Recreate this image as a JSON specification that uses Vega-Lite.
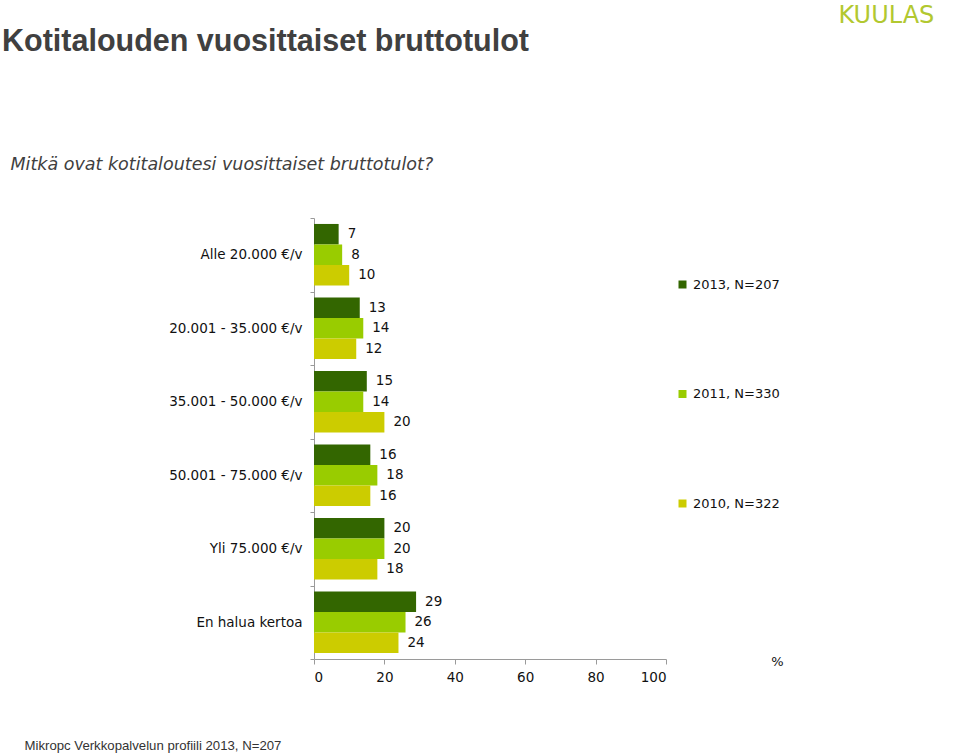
{
  "$schema": "https://vega.github.io/schema/vega-lite/v6.json",
  "autosize": {"type": "none"},
  "padding": {"left": 314, "top": 218, "right": 294, "bottom": 96},
  "width": 352,
  "height": 441,
  "background": "white",
  "title": {
    "text": "Kotitalouden vuosittaiset bruttotulot",
    "anchor": "start",
    "frame": "group",
    "font": "Liberation Sans",
    "fontSize": 30.5,
    "fontWeight": "bold",
    "color": "#404040",
    "baseline": "alphabetic",
    "dx": -312,
    "dy": 82
  },
  "config": {
    "view": {"stroke": null},
    "axis": {"labelFont": "DejaVu Sans", "titleFont": "DejaVu Sans", "labelColor": "#111", "titleColor": "#111", "domainColor": "#9a9a9a", "tickColor": "#9a9a9a"}
  },
  "data": {
    "values": [
      {"cat": "Alle 20.000 €/v", "series": "2013, N=207", "value": 7},
      {"cat": "Alle 20.000 €/v", "series": "2011, N=330", "value": 8},
      {"cat": "Alle 20.000 €/v", "series": "2010, N=322", "value": 10},
      {"cat": "20.001 - 35.000 €/v", "series": "2013, N=207", "value": 13},
      {"cat": "20.001 - 35.000 €/v", "series": "2011, N=330", "value": 14},
      {"cat": "20.001 - 35.000 €/v", "series": "2010, N=322", "value": 12},
      {"cat": "35.001 - 50.000 €/v", "series": "2013, N=207", "value": 15},
      {"cat": "35.001 - 50.000 €/v", "series": "2011, N=330", "value": 14},
      {"cat": "35.001 - 50.000 €/v", "series": "2010, N=322", "value": 20},
      {"cat": "50.001 - 75.000 €/v", "series": "2013, N=207", "value": 16},
      {"cat": "50.001 - 75.000 €/v", "series": "2011, N=330", "value": 18},
      {"cat": "50.001 - 75.000 €/v", "series": "2010, N=322", "value": 16},
      {"cat": "Yli 75.000 €/v", "series": "2013, N=207", "value": 20},
      {"cat": "Yli 75.000 €/v", "series": "2011, N=330", "value": 20},
      {"cat": "Yli 75.000 €/v", "series": "2010, N=322", "value": 18},
      {"cat": "En halua kertoa", "series": "2013, N=207", "value": 29},
      {"cat": "En halua kertoa", "series": "2011, N=330", "value": 26},
      {"cat": "En halua kertoa", "series": "2010, N=322", "value": 24}
    ]
  },
  "encoding": {
    "y": {
      "field": "cat", "type": "nominal",
      "sort": ["Alle 20.000 €/v", "20.001 - 35.000 €/v", "35.001 - 50.000 €/v", "50.001 - 75.000 €/v", "Yli 75.000 €/v", "En halua kertoa"],
      "scale": {"paddingInner": 0, "paddingOuter": 0}
    },
    "yOffset": {
      "field": "series", "type": "nominal",
      "sort": ["2013, N=207", "2011, N=330", "2010, N=322"],
      "scale": {"paddingInner": 0, "paddingOuter": 0.29}
    },
    "x": {
      "field": "value", "type": "quantitative",
      "scale": {"domain": [0, 100], "nice": false}
    }
  },
  "layer": [
    {
      "mark": {"type": "bar"},
      "encoding": {
        "y": {
          "field": "cat", "type": "nominal",
          "sort": ["Alle 20.000 €/v", "20.001 - 35.000 €/v", "35.001 - 50.000 €/v", "50.001 - 75.000 €/v", "Yli 75.000 €/v", "En halua kertoa"],
          "scale": {"paddingInner": 0, "paddingOuter": 0},
          "axis": {
            "orient": "left", "tickBand": "extent", "tickSize": 4, "labelPadding": 8, "labelFontSize": 13.5,
            "title": "Mikropc Verkkopalvelun profiili 2013, N=207",
            "titleFont": "Liberation Sans", "titleFontSize": 13.2, "titleFontWeight": "normal", "titleColor": "#333",
            "titleAngle": 0, "titleAlign": "left", "titleBaseline": "middle", "titleX": -290, "titleY": 527
          }
        },
        "x": {
          "field": "value", "type": "quantitative",
          "scale": {"domain": [0, 100], "nice": false},
          "axis": {
            "orient": "bottom", "values": [0, 20, 40, 60, 80, 100], "grid": false, "tickSize": 5, "labelPadding": 6, "labelFontSize": 13.5,
            "title": "%", "titleFontSize": 13, "titleFontWeight": "normal", "titleAlign": "center", "titleBaseline": "middle", "titleX": 463, "titleY": 2
          }
        },
        "color": {
          "field": "series", "type": "nominal",
          "sort": ["2013, N=207", "2011, N=330", "2010, N=322"],
          "scale": {"domain": ["2013, N=207", "2011, N=330", "2010, N=322"], "range": ["#336600", "#99cc00", "#cccc00"]},
          "legend": {
            "title": null, "orient": "none", "legendX": 362, "legendY": 60,
            "symbolType": "square", "symbolSize": 64, "symbolStrokeWidth": 0,
            "labelFont": "DejaVu Sans", "labelFontSize": 13, "labelColor": "#111", "labelOffset": 4,
            "rowPadding": 95.5
          }
        }
      }
    },
    {
      "mark": {"type": "text", "align": "left", "baseline": "middle", "dx": 9, "font": "DejaVu Sans", "fontSize": 13.5, "color": "#111"},
      "encoding": {
        "text": {"field": "value", "type": "quantitative"},
        "x": {
          "field": "value", "type": "quantitative",
          "scale": {"domain": [0, 100], "nice": false},
          "axis": {
            "orient": "top", "labels": false, "ticks": false, "domain": false, "grid": false,
            "title": "Mitkä ovat kotitaloutesi vuosittaiset bruttotulot?",
            "titleFont": "DejaVu Sans", "titleFontSize": 17.5, "titleFontStyle": "italic", "titleFontWeight": "normal", "titleColor": "#404040",
            "titleAlign": "left", "titleBaseline": "middle", "titleX": -304, "titleY": -54
          }
        },
        "y": {
          "field": "cat", "type": "nominal",
          "sort": ["Alle 20.000 €/v", "20.001 - 35.000 €/v", "35.001 - 50.000 €/v", "50.001 - 75.000 €/v", "Yli 75.000 €/v", "En halua kertoa"],
          "scale": {"paddingInner": 0, "paddingOuter": 0},
          "axis": {
            "orient": "right", "labels": false, "ticks": false, "domain": false, "grid": false,
            "title": "KUULAS",
            "titleFont": "DejaVu Sans", "titleFontSize": 24, "titleFontWeight": "normal", "titleColor": "#b2c830",
            "titleAngle": 0, "titleAlign": "left", "titleBaseline": "middle", "titleX": 172, "titleY": -203
          }
        }
      }
    }
  ],
  "resolve": {"axis": {"x": "independent", "y": "independent"}}
}
